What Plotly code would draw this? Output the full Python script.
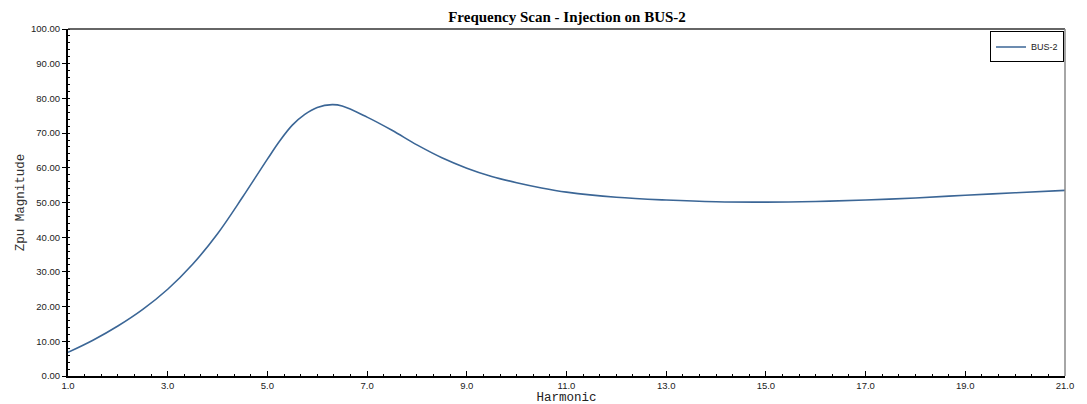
import plotly.graph_objects as go

harmonic = [1.0, 1.5, 2.0, 2.5, 3.0, 3.5, 4.0, 4.5, 5.0, 5.25, 5.5, 5.75, 6.0, 6.3, 6.5,
            7.0, 7.5, 8.0, 8.5, 9.0, 9.5, 10.0, 10.5, 11.0, 12.0, 13.0, 14.0, 15.0, 16.0,
            17.0, 18.0, 19.0, 20.0, 21.0]
zpu_bus2 = [6.8, 10.3, 14.4, 19.2, 25.0, 32.2, 41.0, 51.5, 62.5, 67.8, 72.3, 75.4, 77.4,
            78.2, 77.8, 74.6, 70.8, 66.6, 62.9, 59.9, 57.5, 55.7, 54.2, 53.0, 51.5, 50.7,
            50.2, 50.1, 50.3, 50.7, 51.3, 52.1, 52.8, 53.5]

x_ticks = [1, 3, 5, 7, 9, 11, 13, 15, 17, 19, 21]
y_ticks = [0, 10, 20, 30, 40, 50, 60, 70, 80, 90, 100]

W, H = 1087, 404

fig = go.Figure()
fig.add_trace(go.Scatter(x=harmonic, y=zpu_bus2, mode="lines", name="BUS-2",
                         line=dict(color="#3b6696", width=1.6, shape="spline", smoothing=1.0)))

tickfont = dict(family="Liberation Sans, Arial, sans-serif", size=9.5, color="#222")

fig.update_layout(
    width=W, height=H,
    margin=dict(l=60, r=30, t=21, b=36, autoexpand=False),
    paper_bgcolor="white", plot_bgcolor="white",
    title=dict(text="<b>Frequency Scan - Injection on BUS-2</b>",
               font=dict(family="Liberation Serif, Times New Roman, serif", size=15, color="black"),
               x=559 / W, xanchor="center", y=1 - 9 / H, yanchor="middle"),
    showlegend=True,
    legend=dict(x=0.999, y=0.993, xanchor="right", yanchor="top",
                bordercolor="black", borderwidth=1, bgcolor="white",
                font=dict(family="Liberation Sans, Arial, sans-serif", size=9, color="#222"),
                itemwidth=30, tracegroupgap=0),
    xaxis=dict(range=[1, 21], tickvals=x_ticks, tickformat=".1f",
               ticks="inside", ticklen=5, tickwidth=1, tickcolor="black",
               showline=True, linecolor="black", linewidth=2, mirror=False,
               showgrid=False, zeroline=False, tickfont=tickfont, automargin=False,
               minor=dict(dtick=1/3, tick0=1, ticks="inside", ticklen=2.5, tickcolor="black", showgrid=False),
               title=dict(text="Harmonic", standoff=2,
                          font=dict(family="Liberation Mono, Courier New, monospace", size=12.5, color="#222"))),
    yaxis=dict(range=[0, 100], tickvals=y_ticks, tickformat=".2f",
               ticks="outside", ticklen=4, tickwidth=1, tickcolor="black",
               showline=True, linecolor="black", linewidth=2, mirror=False,
               showgrid=False, zeroline=False, tickfont=tickfont, automargin=False,
               minor=dict(dtick=2, ticks="inside", ticklen=2, tickcolor="black", showgrid=False),
               title=dict(text="Zpu Magnitude", standoff=4,
                          font=dict(family="Liberation Mono, Courier New, monospace", size=12.5, color="#333"))),
    shapes=[
        dict(type="line", xref="paper", yref="paper", x0=0, x1=1, y0=1, y1=1,
             line=dict(color="#333", width=1.5)),
        dict(type="line", xref="paper", yref="paper", x0=1, x1=1, y0=0, y1=1,
             line=dict(color="#888", width=1.5)),
    ],
)

fig.write_html("out.html")
